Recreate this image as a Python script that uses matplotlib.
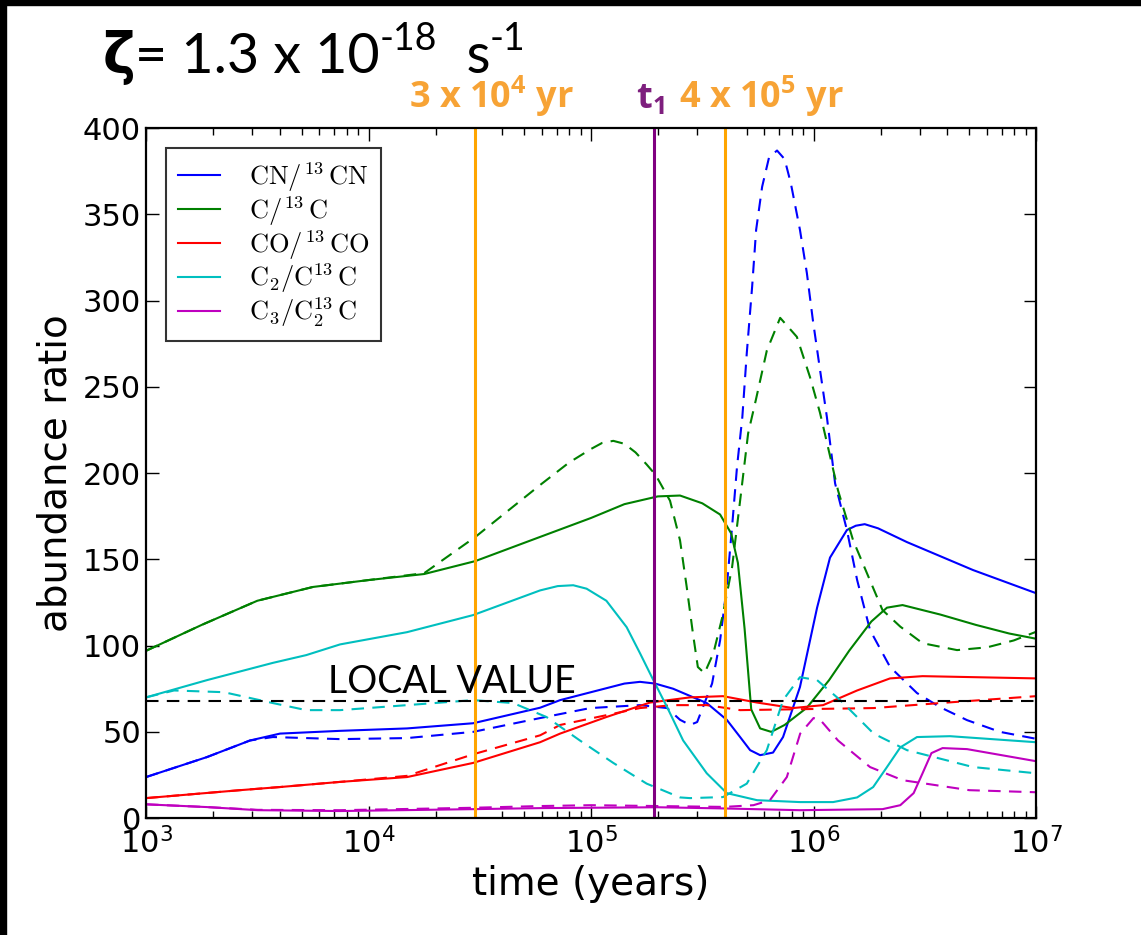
import numpy as np
import matplotlib.pyplot as plt
from matplotlib.patches import Rectangle

# 数据 (log10 时间, 丰度比)
cn_logt = [3.0, 3.274, 3.467, 3.602, 3.872, 4.173, 4.47, 4.771, 4.861, 5.15, 5.22, 5.288, 5.369, 5.52,
           5.61, 5.67, 5.715, 5.76, 5.818, 5.863, 5.939, 6.016, 6.074, 6.15, 6.19, 6.23, 6.29, 6.42,
           6.717, 7.0]
cn_ratio = [23.8, 35.4, 45, 49, 50.6, 52, 55, 64, 68.4, 78, 79, 78, 75, 66.7,
            57, 47, 39.4, 36.5, 38, 47, 76, 122, 151, 167, 169.5, 170.4, 168, 160,
            143.8, 130.4]
cn_d_logt = [3.0, 3.274, 3.467, 3.57, 3.872, 4.173, 4.47, 4.771, 4.996, 5.22, 5.342, 5.40, 5.445, 5.477,
             5.51, 5.544, 5.58, 5.61, 5.634, 5.656, 5.68, 5.70, 5.724, 5.742, 5.769, 5.80, 5.836, 5.87,
             5.898, 5.939, 5.97, 5.997, 6.029, 6.06, 6.097, 6.15, 6.196, 6.254, 6.344, 6.465, 6.569,
             6.69, 6.838, 7.0]
cn_d_ratio = [23.8, 35.4, 45, 47, 45.8, 46.4, 50, 58, 63.8, 65.5, 63.8, 57, 54, 55.7,
              66.7, 78, 103, 134, 169, 203.5, 232.5, 269.6, 308, 341, 366, 383, 387, 382,
              368, 341, 316, 288.7, 260, 232.5, 194, 167, 138, 109, 87.6, 72.5, 64.3,
              56.8, 50, 46]

c_logt = [3.0, 3.25, 3.5, 3.75, 4.0, 4.25, 4.48, 4.75, 5.0, 5.15, 5.3, 5.4, 5.5, 5.58, 5.63, 5.66,
          5.69, 5.72, 5.76, 5.81, 5.87, 5.97, 6.07, 6.16, 6.26, 6.33, 6.40, 6.57, 6.73, 6.88, 7.0]
c_ratio = [97, 112, 126, 134, 138, 141.5, 149, 162, 174, 182, 186.5, 187, 182.5, 176, 165, 148,
           110, 63, 52, 50, 54, 64, 80, 97, 114, 122, 123.5, 118, 112, 107, 104]
c_d_logt = [3.0, 3.25, 3.5, 3.75, 4.0, 4.25, 4.48, 4.77, 4.9, 5.0, 5.05, 5.1, 5.15, 5.2, 5.25, 5.29,
            5.355, 5.40, 5.43, 5.458, 5.48, 5.51, 5.55, 5.59, 5.634, 5.67, 5.706, 5.74, 5.79, 5.85,
            5.925, 5.984, 6.029, 6.11, 6.178, 6.24, 6.31, 6.39, 6.49, 6.645, 6.78, 6.90, 7.0]
c_d_ratio = [97, 112, 126, 134, 138, 142, 163, 193, 206, 214, 217.5, 218.7, 217, 212, 205, 199,
             184, 161, 134, 107, 87.6, 84, 95.6, 116.5, 145.5, 184, 223, 242, 271, 290,
             279, 255.7, 235, 190, 161, 142, 120.6, 111, 101.4, 97.4, 99, 103, 108]

co_logt = [3.0, 3.422, 3.6, 3.872, 4.173, 4.47, 4.771, 4.861, 5.069, 5.265, 5.445, 5.593, 5.746,
           5.908, 6.043, 6.196, 6.344, 6.49, 7.0]
co_ratio = [11.6, 16.2, 18, 21, 23.8, 32, 44, 49, 58.6, 67, 70, 70.7, 67,
            63.8, 65.5, 74, 81, 82.3, 81]
co_d_logt = [3.0, 3.422, 3.6, 3.872, 4.173, 4.47, 4.771, 4.861, 5.22, 5.369, 5.52, 5.67, 5.97,
             6.27, 6.569, 7.0]
co_d_ratio = [11.6, 16.2, 18, 21, 24.5, 37, 48, 54, 63.8, 65.5, 65.5, 62.6, 63.2,
              63.8, 66.7, 70.7]

c2_logt = [3.0, 3.274, 3.57, 3.72, 3.872, 4.173, 4.47, 4.771, 4.85, 4.92, 4.98, 5.069, 5.16, 5.22,
           5.28, 5.342, 5.414, 5.52, 5.61, 5.746, 5.939, 6.088, 6.196, 6.268, 6.33, 6.39, 6.465,
           6.613, 7.0]
c2_ratio = [70, 80, 90, 94.5, 100.7, 107.8, 117.7, 132, 134.5, 135, 133, 126, 110.7, 95.6,
            80, 64.3, 45, 26, 14.5, 10.4, 9.3, 9.3, 12, 18, 29.6, 41, 47,
            47.5, 44]
c2_d_logt = [3.0, 3.126, 3.35, 3.57, 3.72, 3.872, 4.173, 4.47, 4.65, 4.80, 4.95, 5.10, 5.25, 5.40,
             5.445, 5.593, 5.70, 5.79, 5.863, 5.939, 6.016, 6.12, 6.27, 6.42, 6.717, 7.0]
c2_d_ratio = [70, 74, 73, 66.7, 62.6, 62.6, 65.5, 68.4, 66.7, 58.6, 45, 32, 20, 12,
              11.6, 12.2, 20, 39.4, 68.4, 81.7, 80, 68.4, 49, 39.4, 29.6, 26]

c3_logt = [3.0, 3.274, 3.503, 3.872, 4.47, 4.771, 5.3, 5.6, 5.939, 6.31, 6.39, 6.45, 6.49, 6.53,
           6.58, 6.69, 7.0]
c3_ratio = [8, 6.4, 4.6, 4.1, 5.2, 5.8, 6.3, 5.6, 4.6, 5.2, 7.5, 14.5, 26, 37.7,
            40.6, 40, 33]
c3_d_logt = [3.0, 3.274, 3.503, 3.872, 4.47, 4.771, 5.0, 5.3, 5.6, 5.73, 5.804, 5.88, 5.94, 6.0,
             6.03, 6.11, 6.254, 6.40, 6.70, 7.0]
c3_d_ratio = [8, 6.4, 4.8, 4.6, 6, 7, 7.5, 7, 6.5, 7.5, 10.4, 23.8, 49, 58,
              57, 45, 29.6, 22, 16.2, 15]

local_value = 68
t_marks = [3e4, 1.92e5, 4e5]
t_colors = ['orange', 'purple', 'orange']

series = [
    (r'$\mathrm{CN/^{13}\,CN}$', 'b', cn_logt, cn_ratio, cn_d_logt, cn_d_ratio),
    (r'$\mathrm{C/^{13}\,C}$', 'g', c_logt, c_ratio, c_d_logt, c_d_ratio),
    (r'$\mathrm{CO/^{13}\,CO}$', 'r', co_logt, co_ratio, co_d_logt, co_d_ratio),
    (r'$\mathrm{C_2/C^{13}\,C}$', 'c', c2_logt, c2_ratio, c2_d_logt, c2_d_ratio),
    (r'$\mathrm{C_3/C_2^{13}\,C}$', 'm', c3_logt, c3_ratio, c3_d_logt, c3_d_ratio),
]

fig = plt.figure(figsize=(11.41, 9.35), dpi=100)
ax = fig.add_axes([0.128, 0.125, 0.78, 0.738])

for label, col, t1, v1, t2, v2 in series:
    ax.plot(10 ** np.array(t1), v1, color=col, lw=1.5, label=label)
    ax.plot(10 ** np.array(t2), v2, color=col, lw=1.5, dashes=(6, 4))

ax.axhline(local_value, color='k', lw=1.5, dashes=(6, 4))
for tm, tc in zip(t_marks, t_colors):
    ax.axvline(tm, color=tc, lw=2.2)

ax.set_xscale('log')
ax.set_xlim(1e3, 1e7)
ax.set_ylim(0, 400)
ax.set_yticks(np.arange(0, 401, 50))
ax.tick_params(which='both', direction='in', top=True, right=True, labelsize=22)
ax.tick_params(which='major', length=9, width=1)
ax.tick_params(which='minor', length=5, width=1)
ax.tick_params(axis='x', pad=6)
for s in ax.spines.values():
    s.set_linewidth(1.6)

ax.set_xlabel('time (years)', fontsize=28, labelpad=4)
ax.set_ylabel('abundance ratio', fontsize=28, labelpad=6)

ax.text(2.37e4, 72.5, 'LOCAL VALUE', fontsize=27, family=['Lato', 'DejaVu Sans'],
        ha='center', va='baseline')

leg = ax.legend(loc='upper left', prop={'size': 19, 'math_fontfamily': 'cm'},
                handlelength=1.6, handletextpad=1.1, labelspacing=0.0, borderpad=0.45,
                borderaxespad=0.75, fancybox=False, edgecolor='k')
leg.get_frame().set_linewidth(1.5)

# 标题: 逐段放置, 上标用连字符
renderer = fig.canvas.get_renderer()
x = 0.090
pieces = [('ζ', 40, 0.922, ['DejaVu Sans'], 'bold'),
          ('= 1.3 x 10', 40, 0.922, ['Lato', 'DejaVu Sans'], 'normal'),
          ('-18', 27, 0.9465, ['Lato', 'DejaVu Sans'], 'normal'),
          ('  s', 40, 0.922, ['Lato', 'DejaVu Sans'], 'normal'),
          ('-1', 27, 0.9465, ['Lato', 'DejaVu Sans'], 'normal')]
for txt, fs, yb, fam, fw in pieces:
    t = fig.text(x, yb, txt, fontsize=fs, family=fam, fontweight=fw, ha='left', va='baseline')
    x = t.get_window_extent(renderer).x1 / fig.bbox.width

lab_kw = dict(fontsize=26, fontweight='bold', family=['Open Sans', 'DejaVu Sans'],
              ha='center', va='baseline')
fig.text(0.4305, 0.8845, '3 x 10$^{\\mathdefault{4}}$ yr', color='#F7A335', **lab_kw)
fig.text(0.5697, 0.8845, 't$_{\\mathdefault{1}}$', color='#7E1F7E', **lab_kw)
fig.text(0.6670, 0.8845, '4 x 10$^{\\mathdefault{5}}$ yr', color='#F7A335', **lab_kw)

# 黑色边框
fig.patches.append(Rectangle((0, 0), 0.005, 1, transform=fig.transFigure, color='k', zorder=10))
fig.patches.append(Rectangle((0, 0.995), 1, 0.005, transform=fig.transFigure, color='k', zorder=10))

fig.savefig('out.png', dpi=100)
